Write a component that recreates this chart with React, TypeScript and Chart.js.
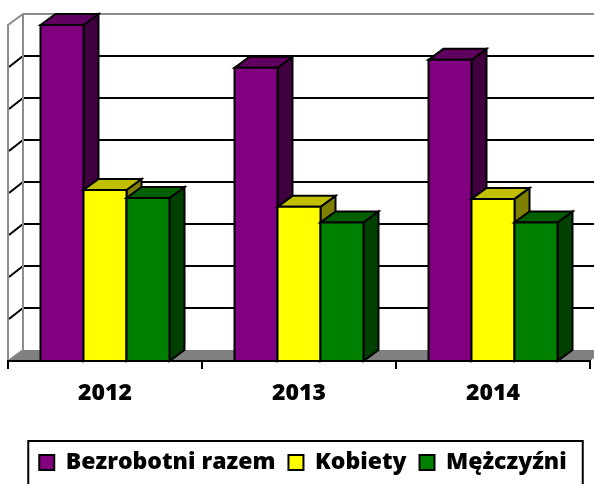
import React, { useEffect, useRef } from "react";
import { Chart, registerables } from "chart.js";

Chart.register(...registerables);

// ---- data (in grid-line units) ----
const categories = ["2012", "2013", "2014"];
const seriesNames = ["Bezrobotni razem", "Kobiety", "Mężczyźni"];
const razem = [8.0, 6.98, 7.17];
const kobiety = [4.07, 3.67, 3.86];
const mezczyzni = [3.88, 3.3, 3.3];
const yMax = 8;
const yStep = 1;

// ---- styles ----
const frontColors = ["#800080", "#FFFF00", "#008000"];
const topColors = ["#600060", "#C0C000", "#006000"];
const sideColors = ["#400040", "#808000", "#004000"];
const DX = 15;
const DY = 11;
const LEGEND_SHIFT = 4;
const FONT = "'Open Sans', 'DejaVu Sans', sans-serif";

const threeD = {
  id: "threeD",
  afterLayout(chart: any) {
    const lg = chart.legend;
    if (!lg || !lg.legendHitBoxes) return;
    lg.left += LEGEND_SHIFT;
    lg.right += LEGEND_SHIFT;
    lg.legendHitBoxes.forEach((h: any) => {
      h.left += LEGEND_SHIFT;
    });
  },
  beforeDraw(chart: any) {
    const { ctx, chartArea: a, scales } = chart;
    const y = scales.y;
    ctx.save();
    // floor
    ctx.fillStyle = "#808080";
    ctx.beginPath();
    ctx.moveTo(a.left, a.bottom);
    ctx.lineTo(a.right, a.bottom);
    ctx.lineTo(a.right + DX, a.bottom - DY);
    ctx.lineTo(a.left + DX, a.bottom - DY);
    ctx.closePath();
    ctx.fill();
    // grid lines (left wall + back wall)
    ctx.strokeStyle = "#000";
    ctx.lineWidth = 2;
    for (let v = yStep; v < yMax; v += yStep) {
      const py = y.getPixelForValue(v);
      ctx.beginPath();
      ctx.moveTo(a.left + 1, py);
      ctx.lineTo(a.left + DX, py - DY);
      ctx.lineTo(a.right + DX + 20, py - DY);
      ctx.stroke();
    }
    // wall borders
    ctx.strokeStyle = "#8c8c8c";
    ctx.lineWidth = 2;
    ctx.beginPath();
    ctx.moveTo(a.left, a.bottom);
    ctx.lineTo(a.left, a.top);
    ctx.lineTo(a.left + DX, a.top - DY);
    ctx.lineTo(a.right + DX + 20, a.top - DY);
    ctx.moveTo(a.left + DX, a.top - DY);
    ctx.lineTo(a.left + DX, a.bottom - DY);
    ctx.moveTo(a.left, a.bottom);
    ctx.lineTo(a.left + DX, a.bottom - DY);
    ctx.stroke();
    ctx.restore();
  },
  afterDatasetsDraw(chart: any) {
    const { ctx } = chart;
    ctx.save();
    ctx.lineWidth = 2;
    ctx.strokeStyle = "#000";
    ctx.lineJoin = "miter";
    const n = categories.length;
    for (let i = 0; i < n; i++) {
      for (let d = 0; d < chart.data.datasets.length; d++) {
        const meta = chart.getDatasetMeta(d);
        const el = meta.data[i];
        if (!el) continue;
        const { x, y, base, width } = el.getProps(["x", "y", "base", "width"], true);
        const l = x - width / 2;
        const r = x + width / 2;
        // side
        ctx.fillStyle = sideColors[d];
        ctx.beginPath();
        ctx.moveTo(r, y);
        ctx.lineTo(r + DX, y - DY);
        ctx.lineTo(r + DX, base - DY);
        ctx.lineTo(r, base);
        ctx.closePath();
        ctx.fill();
        ctx.stroke();
        // top
        ctx.fillStyle = topColors[d];
        ctx.beginPath();
        ctx.moveTo(l, y);
        ctx.lineTo(l + DX, y - DY);
        ctx.lineTo(r + DX, y - DY);
        ctx.lineTo(r, y);
        ctx.closePath();
        ctx.fill();
        ctx.stroke();
        // front
        ctx.fillStyle = frontColors[d];
        ctx.beginPath();
        ctx.rect(l, y, r - l, base - y);
        ctx.fill();
        ctx.stroke();
      }
    }
    ctx.restore();
  },
  afterDraw(chart: any) {
    const lg = chart.legend;
    if (!lg || !lg.legendHitBoxes || !lg.legendHitBoxes.length) return;
    const hb = lg.legendHitBoxes;
    const first = hb[0];
    const last = hb[hb.length - 1];
    const { ctx } = chart;
    ctx.save();
    ctx.strokeStyle = "#000";
    ctx.lineWidth = 2;
    const left = first.left - 11;
    const right = last.left + last.width + 16;
    const top = first.top - 10;
    ctx.strokeRect(left, top, right - left, 80);
    ctx.restore();
  },
};

export default function App() {
  const ref = useRef<HTMLCanvasElement>(null);
  useEffect(() => {
    document.body.style.margin = "0";
    const values = [razem, kobiety, mezczyzni];
    const chart = new Chart(ref.current as HTMLCanvasElement, {
      type: "bar",
      data: {
        labels: categories,
        datasets: seriesNames.map((name, i) => ({
          label: name,
          data: values[i],
          backgroundColor: frontColors[i],
          borderColor: "#000",
          borderWidth: 2,
          categoryPercentage: 0.665,
          barPercentage: 1.0,
        })),
      },
      options: {
        animation: false,
        responsive: true,
        maintainAspectRatio: false,
        layout: { padding: { left: 8, right: 4, top: 25, bottom: 0 } },
        plugins: {
          tooltip: { enabled: false },
          legend: {
            position: "bottom",
            labels: {
              boxWidth: 15,
              boxHeight: 15,
              padding: 13,
              color: "#000",
              font: { family: FONT, weight: 800, size: 23 },
            },
          },
        },
        scales: {
          x: {
            grid: {
              display: true,
              drawOnChartArea: false,
              drawTicks: true,
              tickLength: 8,
              color: "#000",
              lineWidth: 2,
              offset: true,
            },
            border: { display: true, color: "#000", width: 2 },
            ticks: {
              color: "#000",
              padding: 11,
              font: { family: FONT, weight: 800, size: 23 },
            },
            afterFit: (s: any) => {
              s.height = 77;
            },
          },
          y: {
            display: false,
            min: 0,
            max: yMax,
            ticks: { stepSize: yStep },
            grid: { display: false },
          },
        },
      } as any,
      plugins: [threeD],
    });
    return () => chart.destroy();
  }, []);
  return (
    <div style={{ position: "fixed", left: 0, top: 0, width: 594, height: 484 }}>
      <canvas ref={ref} />
    </div>
  );
}
